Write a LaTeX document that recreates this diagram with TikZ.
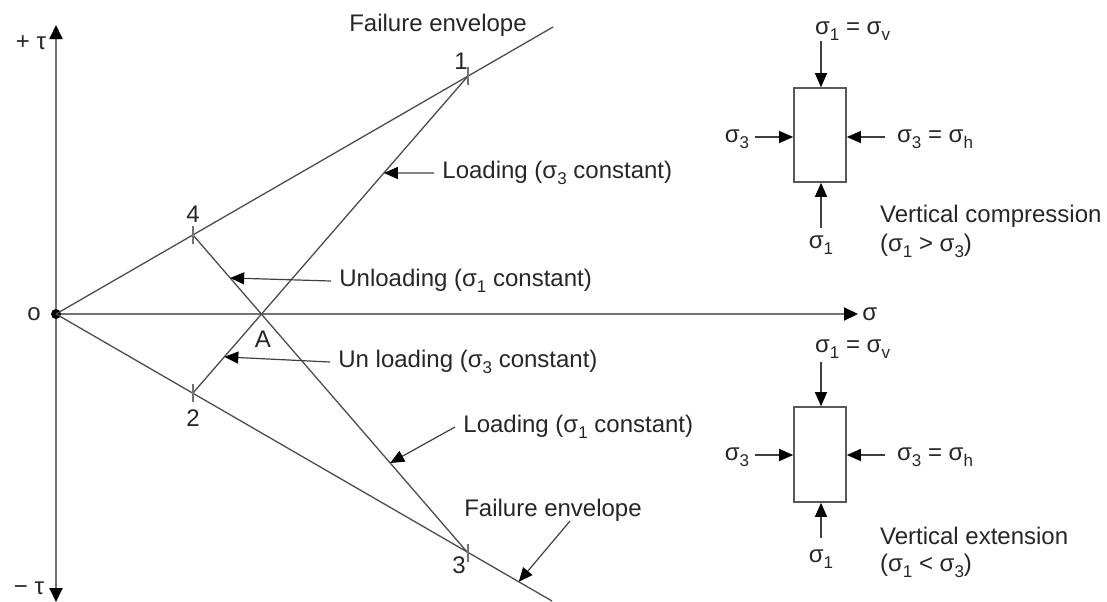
\documentclass[tikz,border=0pt]{standalone}
\usepackage{fontspec}
\setmainfont{Liberation Sans}
\usetikzlibrary{arrows.meta,calc}
% lowered, smaller index for stress symbols
\newcommand\lo[1]{\raisebox{-0.5ex}{\fontsize{8.5}{10}\selectfont #1}}

\begin{document}
\begin{tikzpicture}[x=0.5pt,y=-0.5pt,
  font=\fontsize{12}{14}\selectfont,
  every node/.style={text=black!85},
  thin line/.style={draw=black!70, line width=0.65pt},
  axis line/.style={draw=black!55, line width=1pt},
  bigtip/.style={-{Triangle[length=7pt,width=6.5pt,color=black]}},
  callout/.style={draw=black!75, line width=0.6pt, -{Triangle[length=7pt,width=6pt,color=black]}},
  tickmark/.style={draw=black!55, line width=0.9pt},
  block/.style={draw=black!65, line width=0.8pt, minimum width=26pt, inner sep=0pt},
  label/.style={inner sep=4pt}]
\useasboundingbox (0,0) rectangle (1107,601);

% axes
\coordinate (O) at (56,314);
\coordinate (Ttop) at (56,25);
\coordinate (Tbot) at (56,602);
\coordinate (Send) at (858,314);
\draw[axis line, {Triangle[length=7pt,width=6.5pt,color=black]}-{Triangle[length=7pt,width=6.5pt,color=black]}] (Tbot) -- (Ttop);
\draw[axis line, bigtip] (O) -- (Send);
\fill[black] (O) circle (5);

\node (ptau) at (31,43) {+ τ};
\node (mtau) at (29,588) {− τ};
\node (olab) at (34,314) {o};
\node[anchor=west, inner sep=2pt] (slab) at (Send) {σ};

% failure envelopes
\coordinate (E1) at (553,27);
\coordinate (E2) at (552,601);
\draw[thin line] (O) -- (E1);
\draw[thin line] (O) -- (E2);

% stress states on the envelopes and the point A
\coordinate (P1) at (468,76);
\coordinate (P2) at (193,393);
\coordinate (P3) at (468,553);
\coordinate (P4) at (193,235);
\draw[thin line] (P1) -- (P2);
\draw[thin line] (P4) -- (P3);
\foreach \p in {P1,P2,P3,P4}
  \draw[tickmark] ($(\p)+(0,-9)$) -- ($(\p)+(0,9)$);

\node (n1) at (461,61) {1};
\node (n4) at (193,214) {4};
\node (n2) at (193,418) {2};
\node (n3) at (459,565) {3};
\node (nA) at (263,339) {A};

\node (fe1) at (438,25) {Failure envelope};
\node (fe2) at (553,510) {Failure envelope};
\coordinate (fe2tip) at ($(O)!0.933!(E2)$);
\draw[callout] (570,521) -- (fe2tip);

% path labels
\node[label, anchor=west] (ld3) at (434,173) {Loading (σ\lo{3} constant)};
\coordinate (ld3tip) at ($(P1)!0.306!(P2)$);
\draw[callout] (ld3.west) -- (ld3tip);

\node[label, anchor=west] (ul1) at (331,281) {Unloading (σ\lo{1} constant)};
\coordinate (ul1tip) at ($(P4)!0.135!(P3)$);
\draw[callout] (ul1.west) -- (ul1tip);

\node[label, anchor=west] (ul3) at (330,362) {Un loading (σ\lo{3} constant)};
\coordinate (ul3tip) at ($(P1)!0.886!(P2)$);
\draw[callout] (ul3.west) -- (ul3tip);

\node[label, anchor=west] (ld1) at (455,427) {Loading (σ\lo{1} constant)};
\coordinate (ld1tip) at ($(P4)!0.717!(P3)$);
\draw[callout] (ld1.west) -- (ld1tip);

% element under vertical compression
\node[block, minimum height=47pt] (b1) at (820,135) {};
\node[anchor=west] (b1top) at (808,31) {σ\lo{1} = σ\lo{v}};
\node (b1bot) at (821,245) {σ\lo{1}};
\node (b1l) at (737,139) {σ\lo{3}};
\node[anchor=west] (b1r) at (890,139) {σ\lo{3} = σ\lo{h}};
\coordinate (b1n) at (821,41);
\coordinate (b1s) at (821,228);
\coordinate (b1w) at (755,137);
\coordinate (b1e) at (885,137);
\draw[callout] (b1n) -- (b1n |- b1.north);
\draw[callout] (b1s) -- (b1s |- b1.south);
\draw[callout] (b1w) -- (b1w -| b1.west);
\draw[callout] (b1e) -- (b1e -| b1.east);
\node[anchor=west] (vc) at (873,216) {Vertical compression};
\node[anchor=west] (vc2) at (873,246) {(σ\lo{1} > σ\lo{3})};

% element under vertical extension
\node[block, minimum height=47.5pt] (b2) at (820,454.5) {};
\node[anchor=west] (b2top) at (808,349) {σ\lo{1} = σ\lo{v}};
\node (b2bot) at (821,559) {σ\lo{1}};
\node (b2l) at (737,457) {σ\lo{3}};
\node[anchor=west] (b2r) at (890,457) {σ\lo{3} = σ\lo{h}};
\coordinate (b2n) at (821,362);
\coordinate (b2s) at (821,538);
\coordinate (b2w) at (755,455);
\coordinate (b2e) at (885,455);
\draw[callout] (b2n) -- (b2n |- b2.north);
\draw[callout] (b2s) -- (b2s |- b2.south);
\draw[callout] (b2w) -- (b2w -| b2.west);
\draw[callout] (b2e) -- (b2e -| b2.east);
\node[anchor=west] (ve) at (873,536) {Vertical extension};
\node[anchor=west] (ve2) at (873,566) {(σ\lo{1} < σ\lo{3})};
\end{tikzpicture}
\end{document}
